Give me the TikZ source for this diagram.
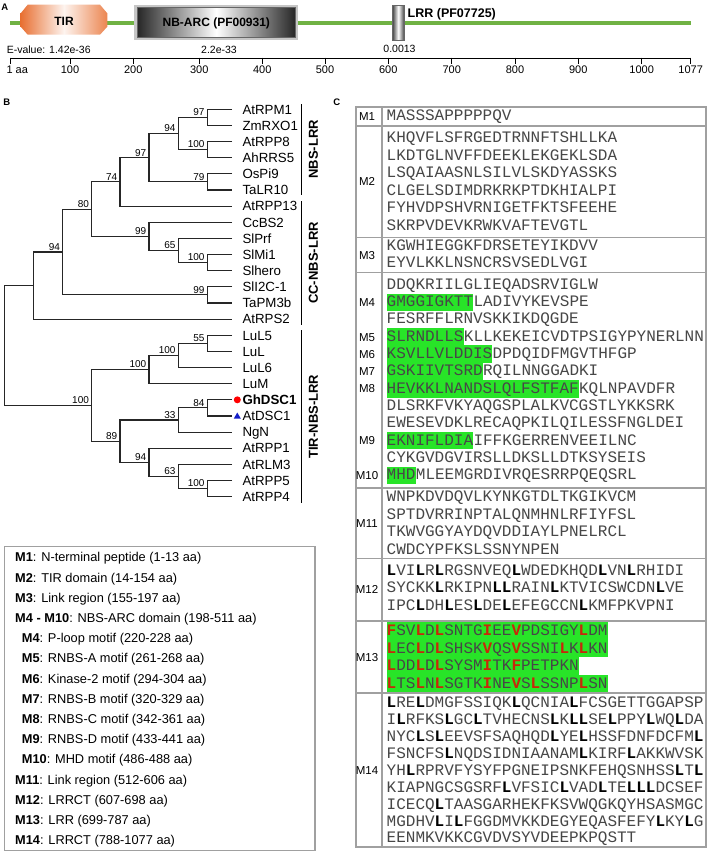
\documentclass[tikz,border=0pt]{standalone}
\usepackage{fontspec}
\setmainfont{Liberation Sans}
\setmonofont{Liberation Mono}
\usetikzlibrary{shapes.geometric,calc}
\definecolor{barG}{RGB}{112,178,68}
\definecolor{hlG}{RGB}{40,228,40}
\definecolor{seqRed}{RGB}{200,40,10}
\definecolor{gridG}{RGB}{160,160,160}
\definecolor{tirO}{RGB}{232,112,50}
\newcommand\seqB[1]{{\bfseries\color{black}#1}}
\newcommand\seqR[1]{{\bfseries\color{seqRed}#1}}
\begin{document}
\begin{tikzpicture}[x=1pt,y=-1pt,
 every node/.style={inner sep=0pt},
 br/.style={line width=1.1pt, black!85},
 leaf/.style={anchor=west, font=\fontsize{13.3}{14}\selectfont, text height=9.5pt, text depth=0pt},
 bs/.style={anchor=south east, font=\fontsize{10}{11}\selectfont, text height=7.2pt, text depth=0pt, xshift=-2.6pt, yshift=1.5pt},
 grp/.style={line width=1.1pt},
 grplab/.style={rotate=90, font=\bfseries\fontsize{13}{14}\selectfont, text height=9.3pt, text depth=0pt},
 leg/.style={anchor=west, font=\fontsize{12.8}{14}\selectfont, text height=9.2pt, text depth=0pt},
 seq/.style={anchor=west, font=\fontsize{16}{17}\selectfont\ttfamily, text=black!72, text height=13.1pt, text depth=4.4pt},
 hl/.style={seq, fill=hlG},
 mlab/.style={font=\fontsize{11.5}{12}\selectfont, text height=8.2pt, text depth=0pt},
 grid/.style={draw=gridG, line width=1.6pt},
 plab/.style={font=\bfseries\fontsize{9.5}{10}\selectfont, text height=6.8pt, text depth=0pt},
 ev/.style={font=\fontsize{10.5}{11}\selectfont, text height=7.5pt, text depth=0pt},
 tk/.style={font=\fontsize{11}{12}\selectfont, text height=7.9pt, text depth=0pt},
]
\fill[white] (0,0) rectangle (709,855);
\useasboundingbox (0,0) rectangle (709,855);

% ---------------- Panel A ----------------
\node[plab] (pA) at (4.8,7.5) {A};
\coordinate (gl0) at (10,23.3); \coordinate (gl1) at (690.7,23.3);
\draw[barG, line width=4pt] (gl0) -- (gl1);
\shade[left color=tirO, right color=tirO!85, middle color=tirO!8]
 (20.7,13.3) -- (27.7,4.7) -- (100,4.7) -- (107.3,13.3) -- (107.3,26.7) -- (100,34.7) -- (27.7,34.7) -- (20.7,26.7) -- cycle;
\node[font=\bfseries\fontsize{12}{13}\selectfont] (tirlab) at (64,21) {TIR};
\fill[gray!45] (134.3,4.7) rectangle (298.3,39.8);
\shade[left color=black!85, right color=black!85, middle color=white] (137,7.3) rectangle (295.6,37.2);
\draw[black!60, line width=0.6pt] (137,7.3) rectangle (295.6,37.2);
\node[font=\bfseries\fontsize{12}{13}\selectfont] (nbarc) at (216.3,23) {NB-ARC (PF00931)};
\shade[left color=black!75, right color=black!75, middle color=white] (392.3,5) rectangle (404.3,40);
\draw[black!60, line width=0.5pt] (392.3,5) rectangle (404.3,40);
\node[anchor=west, font=\bfseries\fontsize{12.5}{13}\selectfont, text height=9pt, text depth=0pt] (lrrlab) at (407.5,12.5) {LRR (PF07725)};
\node[ev] (ev1) at (48.7,49.3) {E-value: 1.42e-36};
\node[ev] (ev2) at (219,49.3) {2.2e-33};
\node[ev] (ev3) at (399.5,48.7) {0.0013};
\coordinate (ax0) at (10.7,58); \coordinate (ax1) at (690.7,58);
\draw[line width=0.9pt] (ax0) -- (ax1);
\coordinate (tk0a) at (10.7,57.5); \coordinate (tk0b) at (10.7,63.5);
\draw[line width=0.9pt] (tk0a) -- (tk0b);
\node[tk, anchor=west] (tl0) at (6.3,70) {1 aa};
\foreach \xx/\lab [count=\k] in {70/100,133.3/200,199.3/300,262.3/400,325/500,388.3/600,451.7/700,515/800,578.3/900,641.7/1000,690.7/1077}{
 \coordinate (tka\k) at (\xx,57.5); \coordinate (tkb\k) at (\xx,63.5);
 \draw[line width=0.9pt] (tka\k) -- (tkb\k);
 \node[tk] (tl\k) at (\xx,70) {\lab};
}

% ---------------- Panel B ----------------
\node[plab] (pB) at (6.7,101.7) {B};
\node[plab] (pC) at (336.7,101.7) {C};
\foreach \nm [count=\i from 0] in {AtRPM1,ZmRXO1,AtRPP8,AhRRS5,OsPi9,TaLR10,AtRPP13,CcBS2,SlPrf,SlMi1,Slhero,SlI2C-1,TaPM3b,AtRPS2,LuL5,LuL,LuL6,LuM,{\textbf{GhDSC1}},AtDSC1,NgN,AtRPP1,AtRLM3,AtRPP5,AtRPP4}{
  \coordinate (l\i) at (232,{109.3+16.14*\i});
  \node[leaf] (n\i) at (242.3,{109.3+16.14*\i}) {\nm};
}
\coordinate (a97) at (207.3,117.37);
\coordinate (a100) at (207.3,149.65);
\coordinate (a79) at (207.3,181.93);
\coordinate (a94) at (178.3,133.51);
\coordinate (b97) at (149,157.72);
\coordinate (c74) at (120,181.93);
\coordinate (d100) at (207.3,262.63);
\coordinate (d65) at (178.3,250.53);
\coordinate (d99) at (149,236.4);
\coordinate (e80) at (91.7,209.17);
\coordinate (f99) at (207.3,294.91);
\coordinate (g94) at (62.7,252.04);
\coordinate (hh) at (33.3,285.58);
\coordinate (t55) at (207.3,343.33);
\coordinate (t100a) at (178.3,355.44);
\coordinate (t100b) at (149,369.56);
\coordinate (t84) at (207.3,407.89);
\coordinate (t33) at (178.3,420.0);
\coordinate (u100) at (207.3,488.59);
\coordinate (u63) at (178.3,476.49);
\coordinate (u94) at (149,462.37);
\coordinate (u89) at (120,441.18);
\coordinate (tirn) at (91.7,405.37);
\coordinate (root) at (4.7,345.48);

\draw[br] (l0) -| (a97) |- (l1);
\draw[br] (l2) -| (a100) |- (l3);
\draw[br] (l4) -| (a79) |- (l5);
\draw[br] (a97) -| (a94) |- (a100);
\draw[br] (a94) -| (b97) |- (a79);
\draw[br] (b97) -| (c74) |- (l6);
\draw[br] (l9) -| (d100) |- (l10);
\draw[br] (l8) -| (d65) |- (d100);
\draw[br] (l7) -| (d99) |- (d65);
\draw[br] (c74) -| (e80) |- (d99);
\draw[br] (l11) -| (f99) |- (l12);
\draw[br] (e80) -| (g94) |- (f99);
\draw[br] (g94) -| (hh) |- (l13);
\draw[br] (l14) -| (t55) |- (l15);
\draw[br] (t55) -| (t100a) |- (l16);
\draw[br] (t100a) -| (t100b) |- (l17);
\draw[br] (l18) -| (t84) |- (l19);
\draw[br] (t84) -| (t33) |- (l20);
\draw[br] (l23) -| (u100) |- (l24);
\draw[br] (l22) -| (u63) |- (u100);
\draw[br] (l21) -| (u94) |- (u63);
\draw[br] (t33) -| (u89) |- (u94);
\draw[br] (t100b) -| (tirn) |- (u89);
\draw[br] (hh) -| (root) |- (tirn);

\foreach \c/\v in {a97/97,a100/100,a79/79,a94/94,b97/97,c74/74,d100/100,d65/65,d99/99,e80/80,f99/99,g94/94,t55/55,t100a/100,t100b/100,t84/84,t33/33,u100/100,u63/63,u94/94,u89/89,tirn/100}{
  \node[bs] (bs-\c) at (\c) {\v};
}
\node[circle, fill=red, minimum size=7pt] (dot) at (237.3,399.82) {};
\node[regular polygon, regular polygon sides=3, fill={rgb,255:red,20;green,30;blue,200}, minimum size=8pt] (tri) at (237.3,416.5) {};

\coordinate (gA1) at (301.7,104.3); \coordinate (gA2) at (301.7,194.5);
\coordinate (gB1) at (301.7,201); \coordinate (gB2) at (301.7,325);
\coordinate (gC1) at (301.7,330); \coordinate (gC2) at (301.7,503.3);
\draw[grp] (gA1) -- (gA2);
\draw[grp] (gB1) -- (gB2);
\draw[grp] (gC1) -- (gC2);
\node[grplab] (glA) at (313.3,149.4) {NBS-LRR};
\node[grplab] (glB) at (313.3,263) {CC-NBS-LRR};
\node[grplab] (glC) at (313.3,416.7) {TIR-NBS-LRR};

% legend
\draw[draw=gridG, line width=1.3pt] (4.7,546.7) rectangle (315,850.7);
\node[leg] (lg1) at (15,557.3) {\textbf{M1}: N-terminal peptide (1-13 aa)};
\node[leg] (lg2) at (15,577.5) {\textbf{M2}: TIR domain (14-154 aa)};
\node[leg] (lg3) at (15,597.7) {\textbf{M3}: Link region (155-197 aa)};
\node[leg] (lg4) at (15,617.9) {\textbf{M4 - M10}: NBS-ARC domain (198-511 aa)};
\node[leg] (lg5) at (21.7,638.1) {\textbf{M4}: P-loop motif (220-228 aa)};
\node[leg] (lg6) at (21.7,658.3) {\textbf{M5}: RNBS-A motif (261-268 aa)};
\node[leg] (lg7) at (21.7,678.5) {\textbf{M6}: Kinase-2 motif (294-304 aa)};
\node[leg] (lg8) at (21.7,698.7) {\textbf{M7}: RNBS-B motif (320-329 aa)};
\node[leg] (lg9) at (21.7,718.9) {\textbf{M8}: RNBS-C motif (342-361 aa)};
\node[leg] (lg10) at (21.7,739.1) {\textbf{M9}: RNBS-D motif (433-441 aa)};
\node[leg] (lg11) at (21.7,759.3) {\textbf{M10}: MHD motif (486-488 aa)};
\node[leg] (lg12) at (15,779.5) {\textbf{M11}: Link region (512-606 aa)};
\node[leg] (lg13) at (15,799.7) {\textbf{M12}: LRRCT (607-698 aa)};
\node[leg] (lg14) at (15,819.9) {\textbf{M13}: LRR (699-787 aa)};
\node[leg] (lg15) at (15,840.1) {\textbf{M14}: LRRCT (788-1077 aa)};

% ---------------- Panel C ----------------
% M13 highlighted lines (drawn first)
\node[hl] (s13a) at (386.5,631.2) {\seqR{F}SV\seqR{L}D\seqR{L}SNTG\seqR{I}EE\seqR{V}PDSIGY\seqR{L}DM};
\node[hl] (s13b) at (386.5,648.7) {\seqR{L}EC\seqR{L}D\seqR{L}SHSK\seqR{V}QS\seqR{V}SSNI\seqR{L}K\seqR{L}KN};
\node[hl] (s13c) at (386.5,666.2) {\seqR{L}DD\seqR{L}D\seqR{L}SYSM\seqR{I}TK\seqR{F}PETPKN};
\node[hl] (s13d) at (386.5,683.7) {\seqR{L}TS\seqR{L}N\seqR{L}SGTK\seqR{I}NE\seqR{V}S\seqR{L}SSNP\seqR{L}SN};

\draw[grid] (356,106.7) rectangle (705.7,846.7);
\draw[grid] (381.7,106.7) -- (381.7,846.7);
\foreach \yy in {126,237.5,272.5,488,558.3,621,693} {\draw[grid] (356,\yy) -- (705.7,\yy);}

\node[mlab] (m1) at (367,116.3) {M1};
\node[mlab] (m2) at (367,181.8) {M2};
\node[mlab] (m3) at (367,255) {M3};
\node[mlab] (m4) at (367,302.3) {M4};
\node[mlab] (m5) at (367,336.9) {M5};
\node[mlab] (m6) at (367,354.2) {M6};
\node[mlab] (m7) at (367,371.5) {M7};
\node[mlab] (m8) at (367,388.8) {M8};
\node[mlab] (m9) at (367,440.7) {M9};
\node[mlab] (m10) at (367,475.3) {M10};
\node[mlab] (m11) at (367,523.2) {M11};
\node[mlab] (m12) at (367,589.7) {M12};
\node[mlab] (m13) at (367,657) {M13};
\node[mlab] (m14) at (367,769.9) {M14};

\node[seq] (s1) at (386.5,116.3) {MASSSAPPPPPQV};

\node[seq] (s2a) at (386.5,138.3) {KHQVFLSFRGEDTRNNFTSHLLKA};
\node[seq] (s2b) at (386.5,155.8) {LKDTGLNVFFDEEKLEKGEKLSDA};
\node[seq] (s2c) at (386.5,173.3) {LSQAIAASNLSILVLSKDYASSKS};
\node[seq] (s2d) at (386.5,190.8) {CLGELSDIMDRKRKPTDKHIALPI};
\node[seq] (s2e) at (386.5,208.3) {FYHVDPSHVRNIGETFKTSFEEHE};
\node[seq] (s2f) at (386.5,225.8) {SKRPVDEVKRWKVAFTEVGTL};

\node[seq] (s3a) at (386.5,246.2) {KGWHIEGGKFDRSETEYIKDVV};
\node[seq] (s3b) at (386.5,263.5) {EYVLKKLNSNCRSVSEDLVGI};

\node[seq] (s4a) at (386.5,285) {DDQKRIILGLIEQADSRVIGLW};
\node[hl] (h4) at (386.5,302.3) {GMGGIGKTT};
\node[seq] (s4b) at (h4.east) {LADIVYKEVSPE};
\node[seq] (s4c) at (386.5,319.6) {FESRFFLRNVSKKIKDQGDE};
\node[hl] (h5) at (386.5,336.9) {SLRNDLLS};
\node[seq] (s5) at (h5.east) {KLLKEKEICVDTPSIGYPYNERLNN};
\node[hl] (h6) at (386.5,354.2) {KSVLLVLDDIS};
\node[seq] (s6) at (h6.east) {DPDQIDFMGVTHFGP};
\node[hl] (h7) at (386.5,371.5) {GSKIIVTSRD};
\node[seq] (s7) at (h7.east) {RQILNNGGADKI};
\node[hl] (h8) at (386.5,388.8) {HEVKKLNANDSLQLFSTFAF};
\node[seq] (s8) at (h8.east) {KQLNPAVDFR};
\node[seq] (s8b) at (386.5,406.1) {DLSRKFVKYAQGSPLALKVCGSTLYKKSRK};
\node[seq] (s8c) at (386.5,423.4) {EWESEVDKLRECAQPKILQILESSFNGLDEI};
\node[hl] (h9) at (386.5,440.7) {EKNIFLDIA};
\node[seq] (s9) at (h9.east) {IFFKGERRENVEEILNC};
\node[seq] (s9b) at (386.5,458) {CYKGVDGVIRSLLDKSLLDTKSYSEIS};
\node[hl] (h10) at (386.5,475.3) {MHD};
\node[seq] (s10) at (h10.east) {MLEEMGRDIVRQESRRPQEQSRL};

\node[seq] (s11a) at (386.5,497.5) {WNPKDVDQVLKYNKGTDLTKGIKVCM};
\node[seq] (s11b) at (386.5,515) {SPTDVRRINPTALQNMHNLRFIYFSL};
\node[seq] (s11c) at (386.5,532.5) {TKWVGGYAYDQVDDIAYLPNELRCL};
\node[seq] (s11d) at (386.5,550) {CWDCYPFKSLSSNYNPEN};

\node[seq] (s12a) at (386.5,571) {\seqB{L}VI\seqB{L}R\seqB{L}RGSNVEQ\seqB{L}WDEDKHQD\seqB{L}VN\seqB{L}RHIDI};
\node[seq] (s12b) at (386.5,588.5) {SYCKK\seqB{L}RKIPN\seqB{LL}RAIN\seqB{L}KTVICSWCDN\seqB{L}VE};
\node[seq] (s12c) at (386.5,606) {IPC\seqB{L}DH\seqB{L}ES\seqB{L}DE\seqB{L}EFEGCCN\seqB{L}KMFPKVPNI};

\node[seq] (s14a) at (386.5,703) {\seqB{L}RE\seqB{L}DMGFSSIQK\seqB{L}QCNIA\seqB{L}FCSGETTGGAPSP};
\node[seq] (s14b) at (386.5,719.95) {I\seqB{L}RFKS\seqB{L}GC\seqB{L}TVHECNS\seqB{L}K\seqB{LL}SE\seqB{L}PPY\seqB{L}WQ\seqB{L}DA};
\node[seq] (s14c) at (386.5,736.9) {NYC\seqB{L}S\seqB{L}EEVSFSAQHQD\seqB{L}YE\seqB{L}HSSFDNFDCFM\seqB{L}};
\node[seq] (s14d) at (386.5,753.85) {FSNCFS\seqB{L}NQDSIDNIAANAM\seqB{L}KIRF\seqB{L}AKKWVSK};
\node[seq] (s14e) at (386.5,770.8) {YH\seqB{L}RPRVFYSYFPGNEIPSNKFEHQSNHSS\seqB{L}T\seqB{L}};
\node[seq] (s14f) at (386.5,787.75) {KIAPNGCSGSRF\seqB{L}VFSIC\seqB{L}VAD\seqB{L}TE\seqB{LLL}DCSEF};
\node[seq] (s14g) at (386.5,804.7) {ICECQ\seqB{L}TAASGARHEKFKSVWQGKQYHSASMGC};
\node[seq] (s14h) at (386.5,821.65) {MGDHV\seqB{L}I\seqB{L}FGGDMVKKDEGYEQASFEFY\seqB{L}KY\seqB{L}G};
\node[seq] (s14i) at (386.5,838.6) {EENMKVKKCGVDVSYVDEEPKPQSTT};
\end{tikzpicture}
\end{document}
